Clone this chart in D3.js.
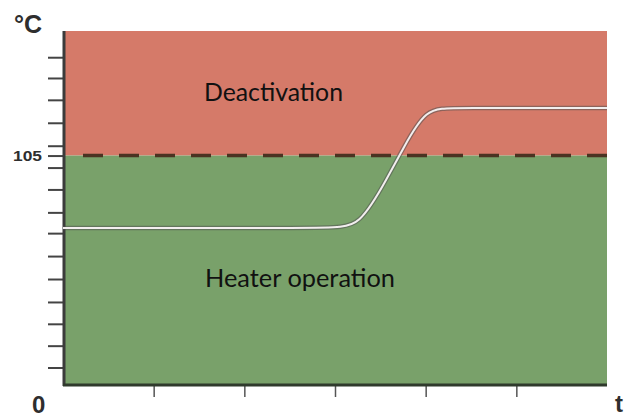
<!DOCTYPE html>
<html><head><meta charset="utf-8">
<script src="https://cdn.jsdelivr.net/npm/d3@7"></script>
<style>html,body{margin:0;padding:0;background:#fff;}svg{display:block;}</style>
</head><body>
<svg id="c" width="633" height="419"></svg>
<script>
// Data
const timeSeries = [0, 2.95, 3.27, 3.60, 3.75, 4.00, 4.30, 6];
const tempSeries = [71.9, 71.9, 71.9, 96.6, 108.1, 126.8, 126.8, 126.8];
const threshold = 105;
const yTicks = [8, 18, 28, 38, 48.5, 59, 69.5, 79, 89.5, 99.5, 109.5, 120, 130.5, 140.5, 150];
const xTicks = [1, 2, 3, 4, 5];
const zoneLabels = ["Deactivation", "Heater operation"];

const svg = d3.select("#c");
const L = 63, R = 607, T = 31, B = 385;
const x = d3.scaleLinear().domain([0, 6]).range([L, R]);
const y = d3.scaleLinear().domain([0, 162]).range([B, T]);

// zones
svg.append("rect").attr("x", x(0)).attr("y", y(162)).attr("width", x(6) - x(0))
  .attr("height", y(threshold) - y(162)).attr("fill", "#d57a69");
svg.append("rect").attr("x", x(0)).attr("y", y(threshold)).attr("width", x(6) - x(0))
  .attr("height", y(0) - y(threshold)).attr("fill", "#79a16a");

// dashed threshold
svg.append("line").attr("x1", x(0) + 8).attr("x2", x(6)).attr("y1", y(threshold)).attr("y2", y(threshold))
  .attr("stroke", "#4a3322").attr("stroke-width", 3.5).attr("stroke-dasharray", "20,16")
  .attr("stroke-dashoffset", -12);

// y ticks
const yAxis = d3.axisLeft(y).tickValues(yTicks.concat([threshold])).tickSize(15).tickFormat("");
const ya = svg.append("g").attr("transform", `translate(${L},0)`).call(yAxis);
ya.select(".domain").remove();
ya.selectAll(".tick line").attr("stroke", "#444").attr("stroke-width", 2);

// x ticks
const xAxis = d3.axisBottom(x).tickValues(xTicks).tickSize(12).tickFormat("");
const xa = svg.append("g").attr("transform", `translate(0,${B})`).call(xAxis);
xa.select(".domain").remove();
xa.selectAll(".tick line").attr("stroke", "#555").attr("stroke-width", 1.5);

// axis lines
svg.append("line").attr("x1", L + 1).attr("x2", L + 1).attr("y1", T).attr("y2", B + 1)
  .attr("stroke", "#3b3b3b").attr("stroke-width", 3);
svg.append("line").attr("x1", L).attr("x2", R).attr("y1", B).attr("y2", B)
  .attr("stroke", "#2f3a2c").attr("stroke-width", 3);

// curve
const pts = timeSeries.map((t, i) => [t, tempSeries[i]]);
const line = d3.line().x(d => x(d[0])).y(d => y(d[1])).curve(d3.curveBasis);
svg.append("path").attr("d", line(pts)).attr("fill", "none")
  .attr("stroke", "rgba(80,80,80,0.55)").attr("stroke-width", 4.5);
svg.append("path").attr("d", line(pts)).attr("fill", "none")
  .attr("stroke", "#f2eeee").attr("stroke-width", 2);

// zone labels
svg.append("text").attr("x", 204).attr("y", 101).text(zoneLabels[0])
  .attr("font-family", "Lato, 'Open Sans', sans-serif").attr("font-size", 25)
  .attr("textLength", 139).attr("lengthAdjust", "spacingAndGlyphs").attr("fill", "#111");
svg.append("text").attr("x", 205).attr("y", 287).text(zoneLabels[1])
  .attr("font-family", "Lato, 'Open Sans', sans-serif").attr("font-size", 25)
  .attr("textLength", 190).attr("lengthAdjust", "spacingAndGlyphs").attr("fill", "#111");

// axis labels
const lab = (t, xx, yy, fs) => svg.append("text").attr("x", xx).attr("y", yy).text(t)
  .attr("font-family", "'Liberation Sans', Arial, sans-serif").attr("font-weight", "bold")
  .attr("font-size", fs).attr("fill", "#2e2e2e");
lab("°C", 14, 33, 25);
lab(String(threshold), 13, 161, 14).attr("textLength", 29).attr("lengthAdjust", "spacingAndGlyphs");
lab("0", 32, 413, 24);
lab("t", 615, 412, 24);
</script>
</body></html>
